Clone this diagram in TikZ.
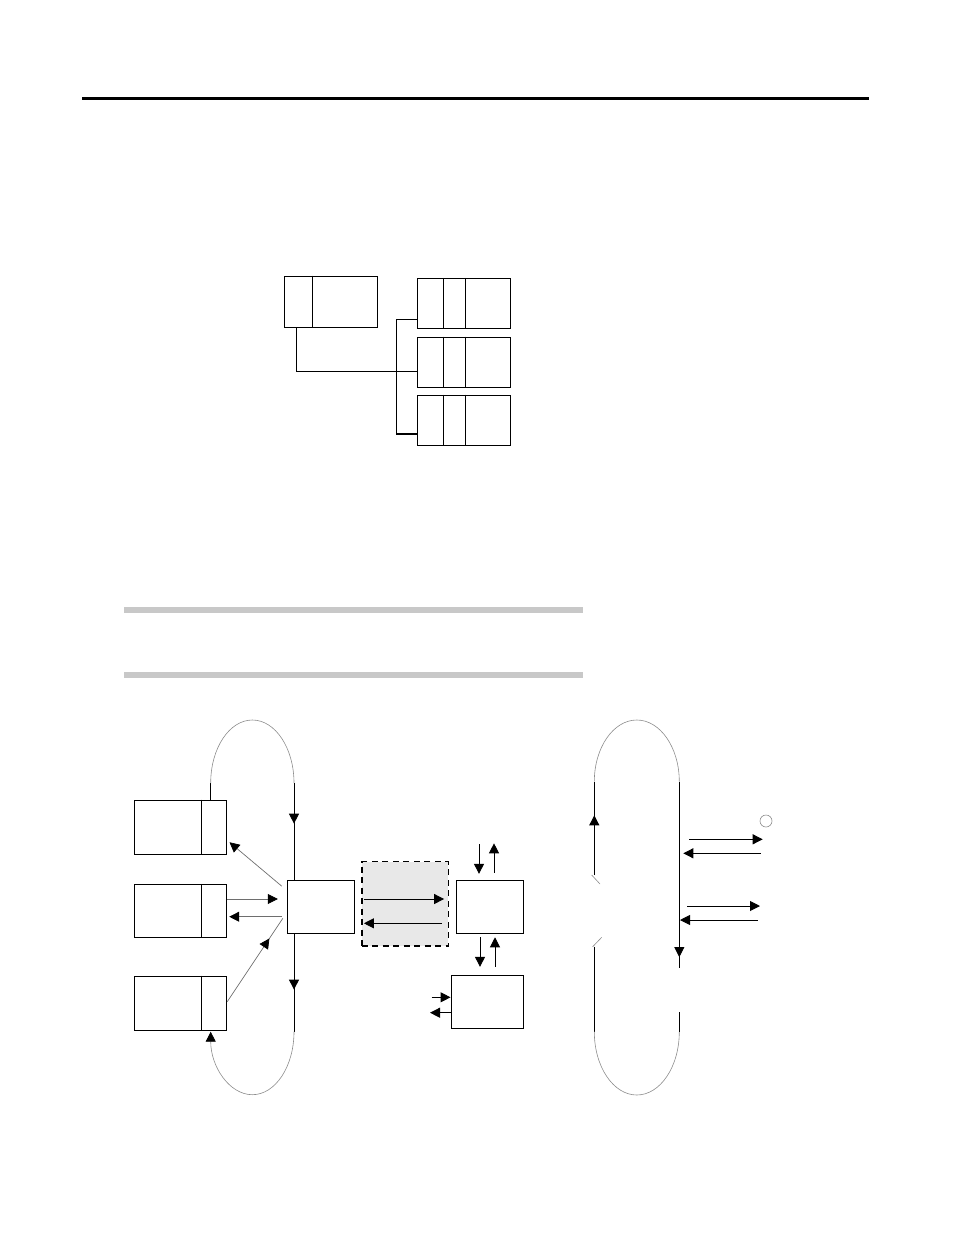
\documentclass[tikz,border=0pt]{standalone}
\usepackage{tikz}
\usetikzlibrary{arrows.meta}
\usetikzlibrary{decorations.markings}
\definecolor{ColBar}{RGB}{200,200,200}
\definecolor{ColShade}{RGB}{232,232,232}
\definecolor{ColLoop}{RGB}{140,140,140}
\definecolor{ColLink}{RGB}{110,110,110}
\tikzstyle{BoxPart}=[draw,line width=1pt,inner sep=0pt]
\tikzstyle{EdgeTree}=[line width=1.2pt]
\tikzstyle{EdgeFlow}=[line width=0.9pt,-{FlowTip}]
\tikzstyle{EdgeLine}=[line width=0.9pt]
\tikzstyle{EdgeLoop}=[ColLoop,line width=0.6pt]
\tikzstyle{EdgeLink}=[ColLink,line width=0.7pt]
\tikzset{FlowTip/.tip={Triangle[length=10pt,width=10pt,color=black]}}
\tikzset{MidTip/.style={postaction={decorate},decoration={markings,mark=at position #1 with {\arrow{FlowTip}}}}}

\begin{document}
\begin{tikzpicture}[x=1pt,y=-1pt]
        \useasboundingbox (0,0) rectangle (954,1235);
        \draw[line width=3pt](82,98.5)--(869,98.5);
        % tree
        \node[BoxPart,minimum width=93,minimum height=51](par)at(330.5,301.5){};
        \draw[BoxPart]([xshift=29.3]par.north west)--([xshift=29.3]par.south west);
        \foreach \i/\y in {1/303.3,2/362.2,3/420.2}{
            \node[BoxPart,minimum width=93,minimum height=50](c\i)at(463.5,\y){};
            \draw[BoxPart]([xshift=27]c\i.north west)--([xshift=27]c\i.south west);
            \draw[BoxPart]([xshift=49]c\i.north west)--([xshift=49]c\i.south west);
        }
        \coordinate(jn)at(396.7,371.3);
        \draw[EdgeTree]([xshift=-33.8]par.south)|-(jn)--(jn-|c2.west);
        \draw[EdgeTree]([yshift=9]c1.south west)-|(jn)|-([yshift=11.7]c3.south west);
        % bars
        \fill[ColBar](124,607)rectangle(583,612.7);
        \fill[ColBar](124,672)rectangle(583,677.7);
        % left ring
        \foreach \n/\y/\h in {L1/827.2/54.3,L2/910.8/53,L3/1003.2/54.3}{
            \node[BoxPart,minimum width=92.4,minimum height=\h](\n)at(180.5,\y){};
            \draw[BoxPart]([xshift=68]\n.north west)--([xshift=68]\n.south west);
        }
        \node[BoxPart,minimum width=67,minimum height=53](C)at(320.8,906.8){};
        \node[BoxPart,fill=ColShade,dash pattern=on 6pt off 4.5pt,line width=1.6pt,
            minimum width=86.6,minimum height=84.3](D)at(405,903.8){};
        \node[BoxPart,minimum width=67.3,minimum height=53.3](R1)at(489.7,906.7){};
        \node[BoxPart,minimum width=72.3,minimum height=53.3](R2)at(487.2,1001.7){};
        \coordinate(tl)at(210.7,783);
        \coordinate(tr)at(294,783);
        \coordinate(bl)at(210.7,1031.7);
        \coordinate(br)at(294,1031.7);
        \draw[EdgeLine](L1.north-|tl)--(tl);
        \draw[EdgeLoop](tl)arc[start angle=180,end angle=0,x radius=41.65pt,y radius=63pt];
        \draw[EdgeLine,MidTip=0.42](tr)--(C.north-|tr);
        \draw[EdgeLine,MidTip=0.57](C.south-|br)--(br);
        \draw[EdgeLoop,-{FlowTip}](br)arc[start angle=0,end angle=-180,x radius=41.65pt,y radius=63pt];
        \draw[EdgeLink,-{FlowTip}]([xshift=-5,yshift=-6.4]C.north west)--([xshift=2.3,yshift=12.6]L1.south east);
        \draw[EdgeLink,-{FlowTip}]([yshift=11.8]L2.east)--([xshift=-9,yshift=7.8]C.west);
        \draw[EdgeLink,-{FlowTip}]([xshift=-5,yshift=-9.9]C.west)--([xshift=2,yshift=-5.9]L2.east);
        \draw[EdgeLink,MidTip=0.76]([yshift=1.5]L3.east)--([xshift=-4,yshift=-11.5]C.west);
        % middle
        \draw[EdgeFlow]([xshift=3.3,yshift=4.8]D.west)--([xshift=-5,yshift=4.8]D.east);
        \draw[EdgeFlow]([xshift=-7.6,yshift=-19.5]D.east)--([xshift=3,yshift=-19.5]D.west);
        \coordinate(r1a)at(479,844);
        \coordinate(r1b)at(494,843.3);
        \draw[EdgeFlow](r1a)--([yshift=5.7]R1.north-|r1a);
        \draw[EdgeFlow]([yshift=6.7]R1.north-|r1b)--(r1b);
        \draw[EdgeFlow]([yshift=-3.4]R1.south-|480,0)--([yshift=7.7]R2.north-|480,0);
        \draw[EdgeFlow]([yshift=7.7]R2.north-|495,0)--([yshift=-3.4]R1.south-|495,0);
        \coordinate(r2a)at(431.7,997.3);
        \coordinate(r2b)at(430,1012.7);
        \draw[EdgeFlow](r2a)--(R2.west|-r2a);
        \draw[EdgeFlow](R2.west|-r2b)--(r2b);
        % right ring
        \coordinate(ql)at(594.3,781.7);
        \coordinate(qr)at(679.3,781.7);
        \coordinate(pl)at(594.3,1031.7);
        \coordinate(pr)at(679.3,1031.7);
        \draw[EdgeLoop](ql)arc[start angle=180,end angle=0,x radius=42.5pt,y radius=61.7pt];
        \draw[EdgeLine,MidTip=0.64](594.3,875)--(ql);
        \draw[EdgeLoop](591.7,875)--(600,884);
        \draw[EdgeLoop](601.7,937.3)--(592.7,946.7);
        \draw[EdgeLine](594.3,946.7)--(pl);
        \draw[EdgeLoop](pl)arc[start angle=180,end angle=360,x radius=42.5pt,y radius=63.3pt];
        \draw[EdgeLine](pr)--(679.3,1011.7);
        \draw[EdgeLine,MidTip=0.94](qr)--(679.3,968.3);
        \draw[EdgeFlow](689,839.3)--(762.7,839.3);
        \draw[EdgeFlow](760.7,853.3)--(683.3,853.3);
        \draw[EdgeFlow](687.3,906)--(760,906);
        \draw[EdgeFlow](757.7,920)--(680,920);
        \node[circle,draw=ColLoop,line width=0.6pt,minimum size=12,inner sep=0pt](dot)at(766,821){};
    \end{tikzpicture}
\end{document}
